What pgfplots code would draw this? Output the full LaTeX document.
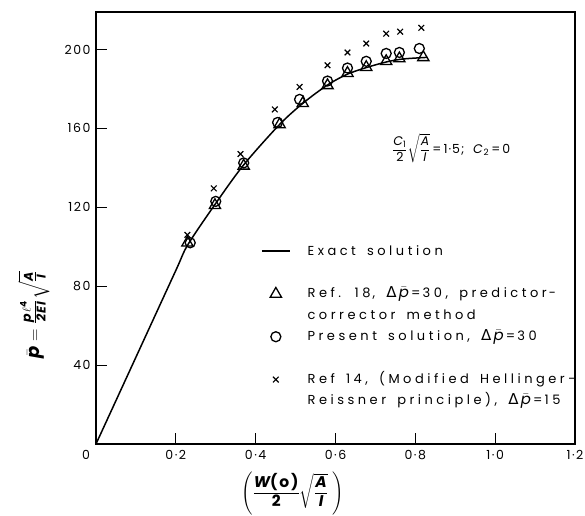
\documentclass[border=0pt]{standalone}
\usepackage{fontspec}
\usepackage{amsmath}
\setmainfont{Poppins}[LetterSpace=27,WordSpace=1.6]
\newfontfamily\djv{DejaVu Sans}
\newfontfamily\annfont{Poppins}[LetterSpace=8]
\usepackage{pgfplots}
\pgfplotsset{compat=1.18}

% delta p-bar used in the legend
\newcommand{\dpb}{{\djv\fontsize{15}{16}\selectfont Δ}\,{\fontsize{15}{16}\selectfont$\bar{\text{\itshape p}}$}\,=\,}
\newcommand{\ti}[1]{\text{\itshape #1}}

\pgfplotstableread{
x y
0 0
0.10 44
0.20 88
0.23 101
0.30 122
0.37 141.5
0.46 162
0.52 173
0.58 182
0.63 187.5
0.68 191
0.73 193.8
0.77 195.2
0.83 196
}\exact

\pgfplotstableread{
x y
0.229 102
0.298 121
0.370 141
0.460 162
0.518 172.7
0.580 181.8
0.630 188
0.677 191
0.727 194
0.760 195.4
0.820 196
}\refeighteen

\pgfplotstableread{
x y
0.236 102
0.300 123
0.370 142.5
0.455 163
0.510 174.7
0.580 184
0.630 190.6
0.677 194
0.727 198
0.760 198.5
0.810 200.5
}\present

\pgfplotstableread{
x y
0.229 106
0.295 129.6
0.362 147
0.448 169.6
0.510 181
0.580 192
0.630 198.5
0.677 203
0.727 208
0.762 209
0.815 211
}\reffourteen

\begin{document}
\fontsize{13}{21.5}\selectfont
\begin{tikzpicture}
\begin{axis}[
at={(0,0)},anchor=south west,
scale only axis,width=479pt,height=432pt,
xmin=0,xmax=1.2,ymin=0,ymax=219,
xtick={0,0.2,0.4,0.6,0.8,1.0,1.2},
xticklabels={\makebox[0pt][r]{0\hspace{6pt}},0·2,0·4,0·6,0·8,1·0,1·2},
ytick={40,80,120,160,200},
yticklabels={40,80,120,160,200},
tick align=inside,tick pos=left,
major tick length=11pt,
tick style={line width=1.2pt,black},
axis line style={line width=1.6pt},
ticklabel style={font=\fontsize{12.5}{14}\selectfont\addfontfeature{LetterSpace=12}},
xticklabel style={yshift=-2pt},
yticklabel style={xshift=-1pt},
xlabel={$\left(\dfrac{\ti{W}\text{(o)}}{\text{2}}\sqrt{\dfrac{\ti{A}}{\ti{I}}}\;\right)$},
xlabel style={at={(axis description cs:0.41,-0.114)},anchor=center,
  font=\fontsize{15.5}{18}\bfseries\addfontfeature{LetterSpace=12}},
ylabel={$\bar{\ti{p}}=\frac{\ti{p}\,\ell^{\text{4}}}{\ti{2EI}}\sqrt{\frac{\ti{A}}{\ti{I}}}$},
ylabel style={at={(axis description cs:-0.13,0.30)},anchor=center,
  font=\fontsize{18}{20}\bfseries\addfontfeature{LetterSpace=10}},
legend image code/.code={\draw[#1,mark repeat=2,mark phase=2]
  plot coordinates {(0pt,4pt)(14pt,4pt)(28pt,4pt)};},
legend style={draw=none,fill=none,at={(axis description cs:0.338,0.477)},
  anchor=north west,nodes={inner sep=0pt,anchor=base west,text height=15pt,text depth=6.4pt},
  row sep=0pt,font=\fontsize{13}{21.5}\selectfont},
legend cell align=left,
]
\addplot[black,line width=1.5pt,smooth,no marks] table {\exact};
\addlegendimage{empty legend}
\addplot[black,only marks,mark=triangle,mark size=6.5pt,mark options={line width=1.3pt}] table {\refeighteen};
\addlegendimage{empty legend}
\addplot[black,only marks,mark=o,mark size=5pt,mark options={line width=1.3pt}] table {\present};
\addlegendimage{empty legend}
\addplot[black,only marks,mark=x,mark size=4pt,mark options={line width=1.2pt}] table {\reffourteen};
\addlegendimage{empty legend}
\legend{
 {\hspace*{17pt}Exact solution},
 {\mbox{}},
 {\hspace*{17pt}Ref. 18\,, \dpb30, predictor\,-},
 {\hspace*{17pt}corrector method},
 {\hspace*{17pt}Present solution, \dpb30},
 {\mbox{}},
 {\hspace*{17pt}Ref 14, (Modified Hellinger-},
 {\hspace*{17pt}Reissner principle), \dpb15}
}
\node[font=\annfont\fontsize{12.5}{15}\selectfont] at (axis cs:0.89,150) {$\dfrac{\ti{C}_{\text{1}}}{\text{2}}\sqrt{\dfrac{\ti{A}}{\ti{I}}}$\,=\,1·5;\ \ \textit{C}$_{\text{2}}$\,=\,0};
\end{axis}
\pgfresetboundingbox
\useasboundingbox (-96pt,-71pt) rectangle (489pt,444pt);
\end{tikzpicture}
\end{document}
